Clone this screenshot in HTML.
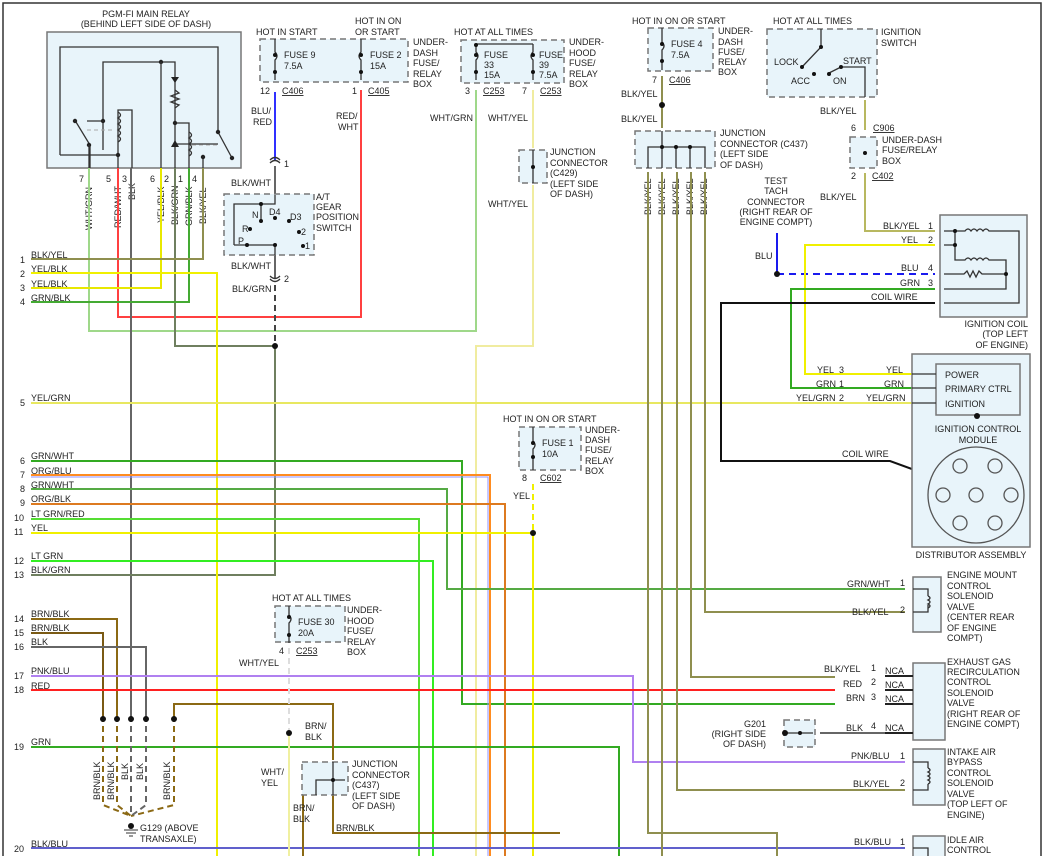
<!DOCTYPE html>
<html><head><meta charset="utf-8"><style>
html,body{margin:0;padding:0;background:#fff;}
svg{display:block;}
text{font-family:"Liberation Sans",sans-serif;font-size:9px;fill:#222;}
.bx{fill:#e8f4fa;stroke:#777;stroke-width:1.5;}
.db{fill:#e8f4fa;stroke:#777;stroke-width:1.5;stroke-dasharray:6,4;}
.w{fill:none;stroke-width:2;}
.k{fill:none;stroke:#333;stroke-width:1.3;}
path{fill:none;}
</style></head><body>
<svg width="1047" height="856" viewBox="0 0 1047 856" xmlns="http://www.w3.org/2000/svg">
<rect x="0" y="0" width="1047" height="856" fill="#fff"/>
<path d="M3 856 V3 H1041 V856" fill="none" stroke="#333" stroke-width="1.5"/>

<!-- PGM-FI relay -->
<text x="146" y="17" text-anchor="middle">PGM-FI MAIN RELAY</text>
<text x="146" y="27" text-anchor="middle">(BEHIND LEFT SIDE OF DASH)</text>
<rect class="bx" x="47" y="32" width="194" height="136"/>
<path class="k" d="M60 155 V47 H218 V132 L232 158 M103 150 V62 H175 V76 M175 62 V190 M76 122 L90 145 V168 M103 121 H87 M174 144 H218 M60 155 H118 V110 H132 V168 M118 155 V168 M175 123 H189 V168 M203 155 V168 M218 132 L232 158"/>
<path class="k" d="M118 112 q5 3 0 6 q5 3 0 6 q5 3 0 6 q5 3 0 6 q5 3 0 6"/>
<path class="k" d="M175 90 l4 3 -8 3 8 3 -8 3 8 3 -4 3"/>
<path class="k" d="M189 132 q5 3 0 6 q5 3 0 6 q5 3 0 6 q5 3 0 6"/>
<polygon points="171,77 179,77 175,83" fill="#222"/><polygon points="171,147 179,147 175,140" fill="#222"/>
<path d="M87 130 H115 M192 145 H218" stroke="#aaa" stroke-dasharray="4,3"/>
<g fill="#222"><circle cx="161" cy="62" r="2.2"/><circle cx="75" cy="121" r="2.2"/><circle cx="89" cy="145" r="2.2"/><circle cx="103" cy="121" r="2.2"/><circle cx="118" cy="155" r="2.2"/><circle cx="175" cy="123" r="2.2"/><circle cx="218" cy="132" r="2.2"/><circle cx="232" cy="158" r="2.2"/><circle cx="203" cy="157" r="2.2"/></g>
<path class="k" d="M161 62 V168 M89 145 V168"/>
<g font-size="9"><text x="79" y="182">7</text><text x="106" y="182">5</text><text x="122" y="182">3</text><text x="150" y="182">6</text><text x="164" y="182">2</text><text x="178" y="182">1</text><text x="192" y="182">4</text></g>
<g transform="rotate(-90)"><text x="-230" y="92">WHT/GRN</text><text x="-228" y="121">RED/WHT</text><text x="-200" y="135">BLK</text><text x="-223" y="164">YEL/BLK</text><text x="-225" y="178">BLK/GRN</text><text x="-226" y="192">GRN/BLK</text><text x="-224" y="206">BLK/YEL</text></g>

<!-- left numbered rows -->
<g font-size="9">
<text x="20" y="263">1</text><text x="20" y="277">2</text><text x="20" y="291">3</text><text x="20" y="305">4</text><text x="20" y="406">5</text>
<text x="20" y="464">6</text><text x="20" y="478">7</text><text x="20" y="492">8</text><text x="20" y="506">9</text><text x="14" y="521">10</text><text x="14" y="535">11</text><text x="14" y="564">12</text><text x="14" y="578">13</text>
<text x="14" y="622">14</text><text x="14" y="636">15</text><text x="14" y="650">16</text><text x="14" y="679">17</text><text x="14" y="693">18</text><text x="14" y="750">19</text><text x="14" y="852">20</text>
<text x="31" y="258">BLK/YEL</text><text x="31" y="272">YEL/BLK</text><text x="31" y="287">YEL/BLK</text><text x="31" y="301">GRN/BLK</text><text x="31" y="401">YEL/GRN</text>
<text x="31" y="459">GRN/WHT</text><text x="31" y="474">ORG/BLU</text><text x="31" y="488">GRN/WHT</text><text x="31" y="502">ORG/BLK</text><text x="31" y="517">LT GRN/RED</text><text x="31" y="531">YEL</text><text x="31" y="559">LT GRN</text><text x="31" y="573">BLK/GRN</text>
<text x="31" y="617">BRN/BLK</text><text x="31" y="631">BRN/BLK</text><text x="31" y="645">BLK</text><text x="31" y="674">PNK/BLU</text><text x="31" y="689">RED</text><text x="31" y="745">GRN</text><text x="31" y="847">BLK/BLU</text>
</g>

<!-- wires -->
<path class="w" stroke="#9fd88a" d="M89 168 V331 H476 V90"/>
<path class="w" stroke="#ff4040" d="M118 168 V317 H361 V90"/>
<path class="w" stroke="#666" d="M131 168 V716"/>
<path class="w" stroke="#e8e800" d="M161 168 V288 H31"/>
<path class="w" stroke="#6f7f5f" d="M175 168 V346 H275 V575 H31"/>
<path class="w" stroke="#44aa33" d="M189 168 V302 H31"/>
<path class="w" stroke="#8f8f4f" d="M203 168 V259 H31"/>
<path class="w" stroke="#f0f000" d="M31 273 H217 V856"/>
<path class="w" stroke="#3030ff" d="M275 92 V160"/>
<path class="w" stroke="#666" d="M275 166 V195"/>
<path class="w" stroke="#666" d="M275 255 V278"/>
<path class="w" stroke="#444" stroke-dasharray="6,4" d="M275 285 V346"/>
<path class="w" stroke="#f0eca0" d="M533 90 V148 M533 185 V346 H476 V856"/>
<path class="w" stroke="#e8e860" d="M31 403 H912"/>
<path class="w" stroke="#33aa22" d="M31 461 H462 V704 H835"/>
<path class="w" stroke="#ff8c20" d="M31 475 H490 V856"/>
<path fill="none" stroke="#9090ff" stroke-width="1" d="M31 477 H488 V856"/>
<path class="w" stroke="#55aa44" d="M31 489 H447 V589 H905"/>
<path class="w" stroke="#dd7a20" d="M31 504 H505 V856"/>
<path class="w" stroke="#55dd33" d="M31 519 H419 V856"/>
<path class="w" stroke="#f0f000" d="M31 533 H533"/>
<path class="w" stroke="#f0f000" stroke-dasharray="6,4" d="M533 484 V533"/>
<path class="w" stroke="#f0f000" d="M533 533 V856"/>
<path class="w" stroke="#33ee22" d="M31 561 H433 V856"/>
<path class="w" stroke="#8b6914" d="M31 619 H117 V716"/>
<path class="w" stroke="#7a5a14" d="M31 633 H103 V716"/>
<path class="w" stroke="#666" d="M31 647 H146 V716"/>
<path class="w" stroke="#b080f0" d="M31 676 H633 V762 H905"/>
<path class="w" stroke="#ff2020" d="M31 690 H835"/>
<path class="w" stroke="#33aa22" d="M31 747 H619 V856"/>
<path class="w" stroke="#6060cc" d="M31 848 H905"/>
<path class="w" stroke="#8b6914" d="M174 716 V704 H333 V760 M333 795 V833 H560"/>
<path class="w" stroke="#8b6914" d="M303 795 V856"/>
<path class="w" stroke="#ddd" stroke-dasharray="6,4" d="M289 648 V733"/>
<path class="w" stroke="#f0f0a0" d="M289 733 V856"/>
<!-- ground dashes -->
<path stroke="#8b6914" stroke-width="2" stroke-dasharray="6,4" fill="none" d="M103 716 V805 L131 816 M117 716 V805 L131 816 M174 716 V805 L131 816"/>
<path stroke="#666" stroke-width="2" stroke-dasharray="6,4" fill="none" d="M131 716 V816 M146 716 V805 L131 816"/>
<g fill="#111"><circle cx="103" cy="719" r="3"/><circle cx="117" cy="719" r="3"/><circle cx="131" cy="719" r="3"/><circle cx="146" cy="719" r="3"/><circle cx="174" cy="719" r="3"/><circle cx="275" cy="346" r="3"/><circle cx="289" cy="733" r="3"/><circle cx="533" cy="533" r="3"/><circle cx="131" cy="826" r="3"/></g>
<path d="M124 830 H138 M126 833 H136 M129 836 H133" stroke="#333"/>
<text x="140" y="831">G129 (ABOVE</text><text x="140" y="842">TRANSAXLE)</text>
<g transform="rotate(-90)"><text x="-800" y="100">BRN/BLK</text><text x="-800" y="114">BRN/BLK</text><text x="-780" y="128">BLK</text><text x="-780" y="143">BLK</text><text x="-800" y="170">BRN/BLK</text></g>

<!-- Fuse 9 / 2 box -->
<text x="256" y="35">HOT IN START</text><text x="355" y="24">HOT IN ON</text><text x="355" y="35">OR START</text>
<rect class="db" x="260" y="39" width="148" height="43"/>
<path class="k" d="M275 39 V52 q4 4 0 8 V80 M361 39 V52 q-4 4 0 8 V80"/>
<g fill="#111"><circle cx="275" cy="55" r="2"/><circle cx="275" cy="72" r="2"/><circle cx="361" cy="55" r="2"/><circle cx="361" cy="72" r="2"/></g>
<text x="284" y="58">FUSE 9</text><text x="284" y="69">7.5A</text><text x="370" y="58">FUSE 2</text><text x="370" y="69">15A</text>
<text x="413" y="45">UNDER-</text><text x="413" y="56">DASH</text><text x="413" y="66">FUSE/</text><text x="413" y="77">RELAY</text><text x="413" y="87">BOX</text>
<text x="260" y="94">12</text><text x="282" y="94" text-decoration="underline">C406</text><text x="352" y="94">1</text><text x="368" y="94" text-decoration="underline">C405</text>
<text x="251" y="114">BLU/</text><text x="253" y="125">RED</text><text x="336" y="119">RED/</text><text x="338" y="130">WHT</text>
<path class="k" d="M270 160 q5 -5 10 0 M270 163 q5 -5 10 0"/><text x="284" y="167">1</text>
<text x="231" y="186">BLK/WHT</text>
<!-- AT switch -->
<rect class="db" x="224" y="194" width="90" height="61"/>
<path class="k" d="M261 204 H275 V195 M261 204 V221 M234 245 H275 V255 M234 245 V204 H261"/>
<g fill="#111"><circle cx="261" cy="204" r="2"/><circle cx="261" cy="221" r="2"/><circle cx="275" cy="218" r="2"/><circle cx="289" cy="221" r="2"/><circle cx="250" cy="229" r="2"/><circle cx="299" cy="232" r="2"/><circle cx="247" cy="245" r="2"/><circle cx="275" cy="245" r="2"/><circle cx="303" cy="246" r="2"/></g>
<text x="252" y="218">N</text><text x="269" y="215">D4</text><text x="290" y="220">D3</text><text x="242" y="232">R</text><text x="301" y="235">2</text><text x="238" y="244">P</text><text x="305" y="249">1</text>
<text x="316" y="200">A/T</text><text x="316" y="210">GEAR</text><text x="316" y="220">POSITION</text><text x="316" y="231">SWITCH</text>
<text x="231" y="269">BLK/WHT</text><path class="k" d="M270 276 q5 5 10 0 M270 279 q5 5 10 0"/><text x="284" y="282">2</text>
<text x="232" y="292">BLK/GRN</text>

<!-- Fuse 33 / 39 -->
<text x="454" y="35">HOT AT ALL TIMES</text>
<rect class="db" x="461" y="40" width="103" height="43"/>
<path class="k" d="M476 44 H533 M476 44 V52 q4 4 0 8 V80 M533 44 V52 q-4 4 0 8 V80"/>
<g fill="#111"><circle cx="476" cy="45" r="2"/><circle cx="476" cy="55" r="2"/><circle cx="476" cy="72" r="2"/><circle cx="533" cy="55" r="2"/><circle cx="533" cy="72" r="2"/></g>
<text x="484" y="58">FUSE</text><text x="484" y="68">33</text><text x="484" y="78">15A</text><text x="539" y="58">FUSE</text><text x="539" y="68">39</text><text x="539" y="78">7.5A</text>
<text x="569" y="45">UNDER-</text><text x="569" y="56">HOOD</text><text x="569" y="66">FUSE/</text><text x="569" y="77">RELAY</text><text x="569" y="87">BOX</text>
<text x="465" y="94">3</text><text x="483" y="94" text-decoration="underline">C253</text><text x="522" y="94">7</text><text x="540" y="94" text-decoration="underline">C253</text>
<text x="430" y="121">WHT/GRN</text><text x="488" y="121">WHT/YEL</text><text x="488" y="207">WHT/YEL</text>
<rect class="db" x="519" y="150" width="28" height="33"/><path class="k" d="M533 150 V183"/><circle cx="533" cy="167" r="2" fill="#111"/>
<text x="550" y="155">JUNCTION</text><text x="550" y="166">CONNECTOR</text><text x="550" y="176">(C429)</text><text x="550" y="187">(LEFT SIDE</text><text x="550" y="197">OF DASH)</text>

<!-- Fuse 4 -->
<text x="632" y="24">HOT IN ON OR START</text>
<rect class="db" x="648" y="28" width="65" height="43"/>
<path class="k" d="M662 28 V42 q4 4 0 8 V70"/><circle cx="662" cy="44" r="2" fill="#111"/><circle cx="662" cy="61" r="2" fill="#111"/>
<text x="671" y="47">FUSE 4</text><text x="671" y="58">7.5A</text>
<text x="718" y="34">UNDER-</text><text x="718" y="45">DASH</text><text x="718" y="55">FUSE/</text><text x="718" y="65">RELAY</text><text x="718" y="75">BOX</text>
<text x="652" y="83">7</text><text x="669" y="83" text-decoration="underline">C406</text>
<path class="w" stroke="#8f8f4f" d="M662 76 V128"/><circle cx="662" cy="105" r="3" fill="#111"/>
<text x="621" y="97">BLK/YEL</text><text x="621" y="122">BLK/YEL</text>
<rect class="db" x="635" y="131" width="80" height="37"/>
<path class="k" d="M648 168 V147 H705 V168 M662 131 V168 M676 147 V168 M690 147 V168"/>
<g fill="#111"><circle cx="662" cy="147" r="2"/><circle cx="676" cy="147" r="2"/><circle cx="690" cy="147" r="2"/></g>
<text x="720" y="136">JUNCTION</text><text x="720" y="147">CONNECTOR (C437)</text><text x="720" y="157">(LEFT SIDE</text><text x="720" y="168">OF DASH)</text>
<g transform="rotate(-90)"><text x="-215" y="651">BLK/YEL</text><text x="-215" y="665">BLK/YEL</text><text x="-215" y="679">BLK/YEL</text><text x="-215" y="693">BLK/YEL</text><text x="-215" y="707">BLK/YEL</text></g>
<path class="w" stroke="#8f8f4f" d="M705 172 V612 H905 M691 172 V677 H835 M677 172 V790 H905 M662 172 V856 M648 172 V833 H777 V856"/>

<!-- Ignition switch -->
<text x="773" y="24">HOT AT ALL TIMES</text>
<rect class="db" x="767" y="29" width="110" height="68"/>
<path class="k" d="M821 29 V47 L802 67 M841 67 L865 67 V97 M829 73 L841 67"/>
<g fill="#111"><circle cx="821" cy="47" r="2"/><circle cx="802" cy="67" r="2"/><circle cx="814" cy="74" r="2"/><circle cx="829" cy="74" r="2"/><circle cx="841" cy="67" r="2"/></g>
<text x="774" y="65">LOCK</text><text x="791" y="84">ACC</text><text x="833" y="84">ON</text><text x="843" y="64">START</text>
<text x="881" y="35">IGNITION</text><text x="881" y="46">SWITCH</text>
<text x="820" y="114">BLK/YEL</text>
<path class="w" stroke="#b8b860" d="M865 100 V130 M865 137 V167 M865 173 V231 H935"/>
<text x="851" y="131">6</text><text x="873" y="131" text-decoration="underline">C906</text>
<rect class="db" x="850" y="137" width="27" height="31"/><circle cx="865" cy="153" r="2" fill="#111"/>
<text x="882" y="143">UNDER-DASH</text><text x="882" y="153">FUSE/RELAY</text><text x="882" y="164">BOX</text>
<text x="851" y="179">2</text><text x="872" y="179" text-decoration="underline">C402</text>
<text x="820" y="200">BLK/YEL</text>
<text x="776" y="184" text-anchor="middle">TEST</text><text x="776" y="194" text-anchor="middle">TACH</text><text x="776" y="205" text-anchor="middle">CONNECTOR</text><text x="776" y="215" text-anchor="middle">(RIGHT REAR OF</text><text x="776" y="225" text-anchor="middle">ENGINE COMPT)</text>
<text x="755" y="259">BLU</text>
<path class="w" stroke="#1a1aee" d="M777 233 V274"/>
<path class="w" stroke="#1a1aee" stroke-dasharray="7,5" d="M777 274 H935"/><circle cx="777" cy="274" r="3" fill="#111"/>
<path class="w" stroke="#f0f000" d="M935 245 H805 V374 H935"/>
<path class="w" stroke="#33aa22" d="M935 289 H791 V388 H912"/>
<path class="w" stroke="#111" d="M935 303 H721 V461 H890 L975 492"/>
<text x="883" y="229">BLK/YEL</text><text x="928" y="229">1</text><text x="901" y="243">YEL</text><text x="928" y="243">2</text><text x="901" y="271">BLU</text><text x="928" y="271">4</text><text x="900" y="286">GRN</text><text x="928" y="286">3</text><text x="871" y="300">COIL WIRE</text>
<!-- coil -->
<rect class="bx" x="940" y="215" width="87" height="102"/>
<path class="k" d="M944 231 H955 V245 H944 M955 231 H965 q3 -4 6 0 q3 -4 6 0 q3 -4 6 0 q3 -4 6 0 H1019 V303 H944 M955 245 V260 H965 q3 -4 6 0 q3 -4 6 0 q3 -4 6 0 q3 -4 6 0 H1006 V289 H944 M944 274 H964 l3 -3 3 6 3 -6 3 6 3 -6 3 3 H1006"/>
<g fill="#111"><circle cx="955" cy="231" r="2"/><circle cx="955" cy="245" r="2"/><circle cx="1006" cy="274" r="2"/></g>
<text x="1028" y="327" text-anchor="end">IGNITION COIL</text><text x="1028" y="337" text-anchor="end">(TOP LEFT</text><text x="1028" y="348" text-anchor="end">OF ENGINE)</text>
<!-- distributor -->
<rect class="bx" x="912" y="354" width="118" height="193"/>
<rect class="bx" x="936" y="364" width="84" height="51"/>
<text x="945" y="378">POWER</text><text x="945" y="392">PRIMARY CTRL</text><text x="945" y="407">IGNITION</text>
<path class="k" d="M912 374 H936 M912 388 H936 M912 403 H936"/>
<text x="817" y="373">YEL</text><text x="839" y="373">3</text><text x="886" y="373">YEL</text>
<text x="816" y="387">GRN</text><text x="839" y="387">1</text><text x="884" y="387">GRN</text>
<text x="796" y="401">YEL/GRN</text><text x="839" y="401">2</text><text x="866" y="401">YEL/GRN</text>
<circle cx="977" cy="416" r="3" fill="#111"/>
<text x="978" y="432" text-anchor="middle">IGNITION CONTROL</text><text x="978" y="443" text-anchor="middle">MODULE</text>
<text x="842" y="457">COIL WIRE</text>
<circle cx="976" cy="495" r="48" fill="none" stroke="#555" stroke-width="1.3"/>
<g fill="none" stroke="#555" stroke-width="1.3"><circle cx="960" cy="466" r="7"/><circle cx="995" cy="466" r="7"/><circle cx="943" cy="495" r="7"/><circle cx="976" cy="495" r="7"/><circle cx="1011" cy="495" r="7"/><circle cx="960" cy="523" r="7"/><circle cx="995" cy="523" r="7"/></g>
<text x="971" y="558" text-anchor="middle">DISTRIBUTOR ASSEMBLY</text>

<!-- Fuse 1 -->
<text x="503" y="422">HOT IN ON OR START</text>
<rect class="db" x="519" y="427" width="62" height="43"/>
<path class="k" d="M533 427 V441 q4 4 0 8 V470"/><circle cx="533" cy="443" r="2" fill="#111"/><circle cx="533" cy="457" r="2" fill="#111"/>
<text x="542" y="446">FUSE 1</text><text x="542" y="457">10A</text>
<text x="585" y="433">UNDER-</text><text x="585" y="443">DASH</text><text x="585" y="453">FUSE/</text><text x="585" y="464">RELAY</text><text x="585" y="474">BOX</text>
<text x="522" y="481">8</text><text x="540" y="481" text-decoration="underline">C602</text><text x="513" y="499">YEL</text>

<!-- Engine mount -->
<rect class="bx" x="913" y="577" width="28" height="55"/>
<path class="k" d="M913 589 H928 V596 M913 612 H928 V605"/>
<path class="k" d="M928 596 q4 2 0 4 q4 2 0 4 q4 2 0 4"/>
<text x="847" y="587">GRN/WHT</text><text x="900" y="586">1</text><text x="852" y="615">BLK/YEL</text><text x="900" y="613">2</text>
<text x="947" y="578">ENGINE MOUNT</text><text x="947" y="589">CONTROL</text><text x="947" y="599">SOLENOID</text><text x="947" y="610">VALVE</text><text x="947" y="620">(CENTER REAR</text><text x="947" y="631">OF ENGINE</text><text x="947" y="641">COMPT)</text>
<!-- EGR -->
<rect class="bx" x="913" y="663" width="32" height="77"/>
<path d="M885 676 H913 M885 690 H913 M885 704 H913 M885 733 H913" stroke="#222" stroke-width="2"/>
<g font-size="9"><text x="824" y="672">BLK/YEL</text><text x="871" y="671">1</text><text x="885" y="674">NCA</text>
<text x="843" y="687">RED</text><text x="871" y="685">2</text><text x="885" y="688">NCA</text>
<text x="846" y="701">BRN</text><text x="871" y="700">3</text><text x="885" y="702">NCA</text>
<text x="846" y="731">BLK</text><text x="871" y="729">4</text><text x="885" y="731">NCA</text></g>
<path class="w" stroke="#666" d="M820 733 H885"/>
<rect class="db" x="784" y="720" width="31" height="27"/><path class="k" d="M783 733 H813"/><circle cx="785" cy="733" r="3" fill="#111"/><circle cx="800" cy="733" r="2" fill="#111"/>
<text x="766" y="727" text-anchor="end">G201</text><text x="766" y="737" text-anchor="end">(RIGHT SIDE</text><text x="766" y="747" text-anchor="end">OF DASH)</text>
<text x="947" y="665">EXHAUST GAS</text><text x="947" y="675">RECIRCULATION</text><text x="947" y="685">CONTROL</text><text x="947" y="696">SOLENOID</text><text x="947" y="706">VALVE</text><text x="947" y="717">(RIGHT REAR OF</text><text x="947" y="727">ENGINE COMPT)</text>
<!-- Intake air bypass -->
<rect class="bx" x="913" y="749" width="32" height="56"/>
<path class="k" d="M913 762 H928 V768 M913 790 H928 V784"/><path class="k" d="M928 768 q4 2 0 4 q4 2 0 4 q4 2 0 4 q4 2 0 4"/>
<text x="851" y="759">PNK/BLU</text><text x="900" y="759">1</text><text x="853" y="787">BLK/YEL</text><text x="900" y="786">2</text>
<text x="947" y="755">INTAKE AIR</text><text x="947" y="765">BYPASS</text><text x="947" y="776">CONTROL</text><text x="947" y="786">SOLENOID</text><text x="947" y="797">VALVE</text><text x="947" y="807">(TOP LEFT OF</text><text x="947" y="818">ENGINE)</text>
<!-- IAC -->
<rect class="bx" x="913" y="836" width="32" height="30"/><path class="k" d="M913 848 H928 V856"/>
<text x="854" y="845">BLK/BLU</text><text x="900" y="845">1</text>
<text x="947" y="843">IDLE AIR</text><text x="947" y="853">CONTROL</text>

<!-- Fuse 30 -->
<text x="272" y="601">HOT AT ALL TIMES</text>
<rect class="db" x="275" y="606" width="70" height="36"/>
<path class="k" d="M289 606 V615 q4 4 0 8 V643"/><circle cx="289" cy="617" r="2" fill="#111"/><circle cx="289" cy="635" r="2" fill="#111"/>
<text x="298" y="625">FUSE 30</text><text x="298" y="636">20A</text>
<text x="347" y="613">UNDER-</text><text x="347" y="624">HOOD</text><text x="347" y="634">FUSE/</text><text x="347" y="645">RELAY</text><text x="347" y="655">BOX</text>
<text x="279" y="654">4</text><text x="296" y="654" text-decoration="underline">C253</text>
<text x="239" y="666">WHT/YEL</text>
<text x="305" y="729">BRN/</text><text x="305" y="740">BLK</text>
<text x="261" y="775">WHT/</text><text x="261" y="786">YEL</text>
<rect class="db" x="302" y="762" width="46" height="33"/>
<path class="k" d="M333 762 V795 M316 795 V780 H345"/><circle cx="333" cy="780" r="2" fill="#111"/>
<text x="352" y="767">JUNCTION</text><text x="352" y="778">CONNECTOR</text><text x="352" y="788">(C437)</text><text x="352" y="799">(LEFT SIDE</text><text x="352" y="809">OF DASH)</text>
<text x="293" y="811">BRN/</text><text x="293" y="822">BLK</text><text x="336" y="831">BRN/BLK</text>
</svg>
</body></html>
